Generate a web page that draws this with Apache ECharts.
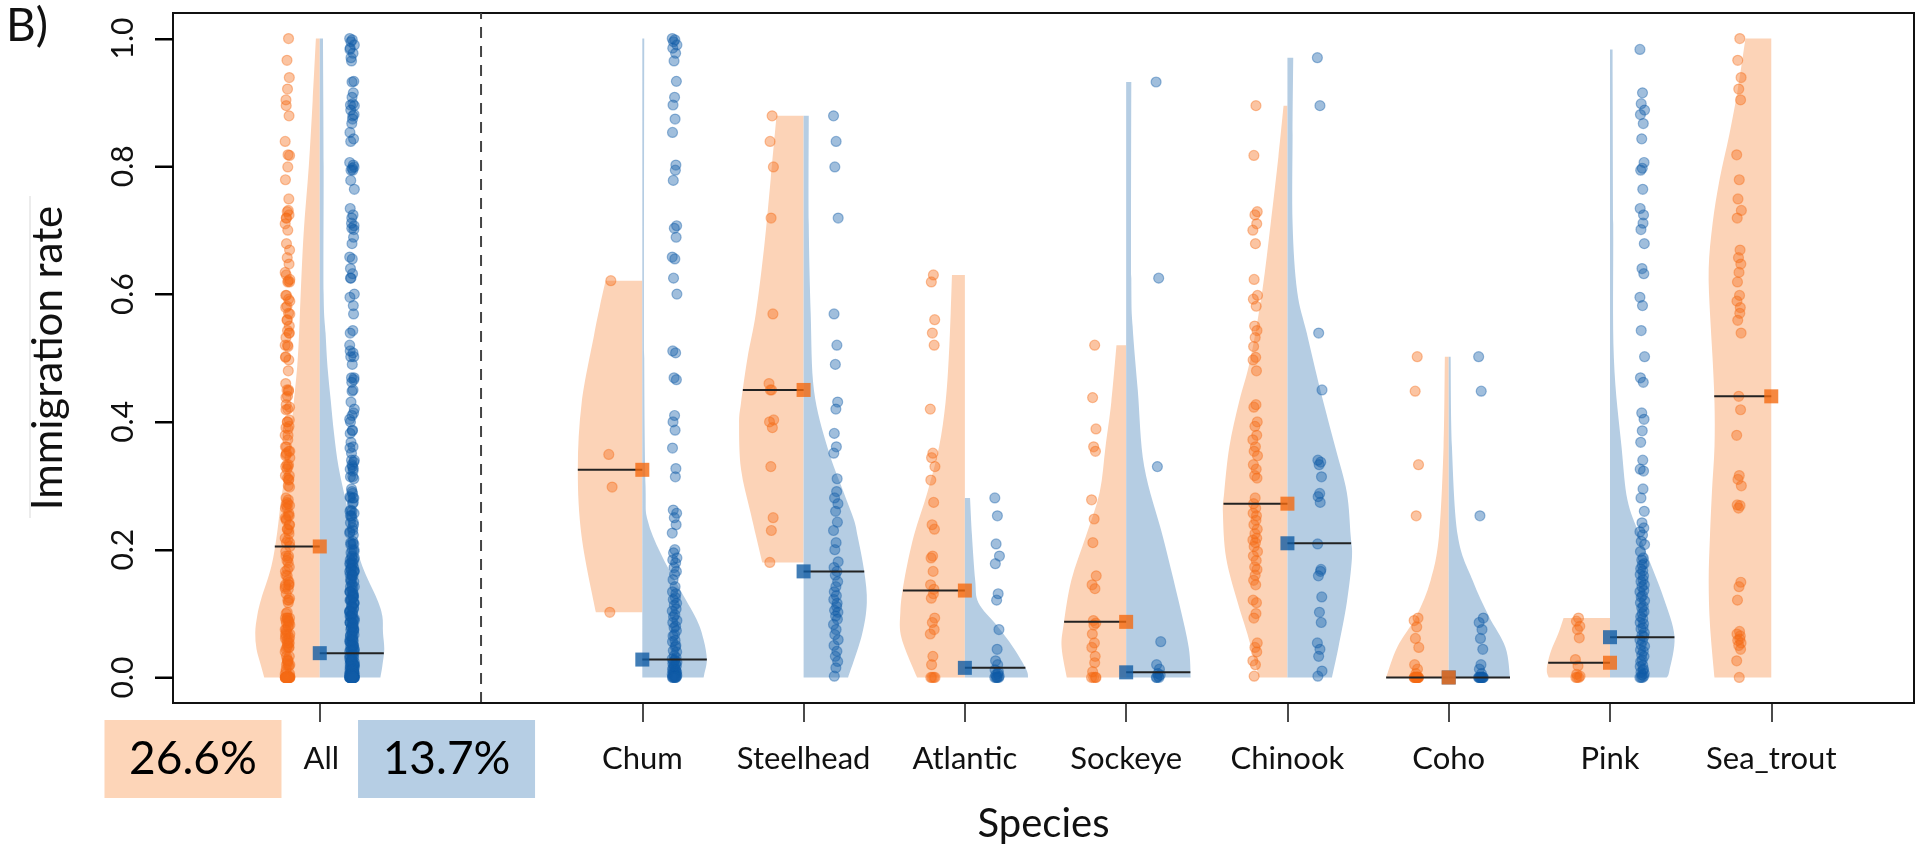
<!DOCTYPE html>
<html><head><meta charset="utf-8">
<script src="https://cdn.jsdelivr.net/npm/echarts@6/dist/echarts.min.js"></script>
<style>html,body{margin:0;padding:0;background:#fff}#c{width:1932px;height:850px}</style>
</head><body><div id="c"></div>
<script>
// ---------- categories & labels ----------
const species = ['All','Chum','Steelhead','Atlantic','Sockeye','Chinook','Coho','Pink','Sea_trout'];
const allPercent = ['26.6%', '13.7%'];
const yTicks = [0, 0.2, 0.4, 0.6, 0.8, 1.0];

// ---------- orange group values (immigration rate) ----------
const chumOrange = [0.621, 0.349, 0.298, 0.102];
const steelheadOrange = [0.879, 0.839, 0.799, 0.719, 0.569, 0.46, 0.45, 0.45, 0.403, 0.40, 0.391, 0.33, 0.25, 0.23, 0.18];
const atlanticOrange = [0.63, 0.619, 0.56, 0.539, 0.52, 0.42, 0.351, 0.344, 0.33, 0.309, 0.274, 0.239, 0.232, 0.19, 0.187, 0.166, 0.145, 0.138, 0.131, 0.124, 0.093, 0.086, 0.075, 0.068, 0.033, 0.02, 0, 0, 0, 0];
const sockeyeOrange = [0.52, 0.438, 0.389, 0.361, 0.354, 0.278, 0.248, 0.211, 0.159, 0.145, 0.139, 0.089, 0.085, 0.082, 0.068, 0.054, 0.047, 0.033, 0.023, 0.009, 0, 0, 0, 0];
const chinookOrange = [0.895, 0.817, 0.729, 0.724, 0.71, 0.70, 0.679, 0.623, 0.598, 0.592, 0.581, 0.55, 0.543, 0.532, 0.518, 0.501, 0.497, 0.48, 0.427, 0.423, 0.40, 0.393, 0.379, 0.372, 0.361, 0.354, 0.347, 0.333, 0.326, 0.316, 0.312, 0.281, 0.272, 0.265, 0.257, 0.253, 0.246, 0.239, 0.232, 0.225, 0.218, 0.215, 0.211, 0.205, 0.197, 0.19, 0.183, 0.173, 0.169, 0.16, 0.152, 0.145, 0.121, 0.117, 0.10, 0.093, 0.054, 0.047, 0.04, 0.026, 0.02, 0.002];
const cohoOrange = [0.502, 0.448, 0.333, 0.253, 0.093, 0.089, 0.079, 0.061, 0.047, 0.02, 0.013, 0.006, 0, 0, 0, 0, 0, 0, 0, 0, 0, 0, 0, 0, 0];
const pinkOrange = [0.093, 0.088, 0.08, 0.075, 0.062, 0.028, 0.018, 0.005, 0.002, 0, 0, 0];
const seaTroutOrange = [1.0, 0.966, 0.939, 0.921, 0.904, 0.818, 0.779, 0.749, 0.731, 0.719, 0.669, 0.657, 0.647, 0.634, 0.619, 0.598, 0.589, 0.579, 0.57, 0.559, 0.539, 0.44, 0.419, 0.379, 0.316, 0.31, 0.30, 0.27, 0.269, 0.265, 0.149, 0.142, 0.121, 0.072, 0.068, 0.065, 0.06, 0.058, 0.054, 0.05, 0.044, 0.026, 0];

// ---------- blue group values ----------
const chumBlue = [1.0, 0.998, 0.995, 0.99, 0.985, 0.977, 0.965, 0.933, 0.908, 0.896, 0.874, 0.853, 0.802, 0.794, 0.778, 0.707, 0.703, 0.689, 0.658, 0.655, 0.625, 0.6, 0.511, 0.508, 0.469, 0.466, 0.41, 0.4, 0.387, 0.359, 0.327, 0.314, 0.262, 0.257, 0.25, 0.239, 0.226, 0.2, 0.195, 0.187, 0.184, 0.179, 0.172, 0.166, 0.161, 0.153, 0.142, 0.134,
  0.131, 0.125, 0.122, 0.116, 0.113, 0.107, 0.104, 0.098, 0.095, 0.089, 0.086, 0.08, 0.078, 0.073, 0.067, 0.065, 0.058, 0.056, 0.05, 0.048, 0.042, 0.04, 0.034, 0.031, 0.029,
  0.027, 0.025, 0.024, 0.022, 0.021, 0.019, 0.018, 0.016, 0.015, 0.013, 0.012, 0.011, 0.01, 0.009, 0.008, 0.007, 0.006, 0.005, 0.004, 0.004, 0.003, 0.002, 0.002, 0.001, 0.001, 0, 0, 0, 0, 0];
const steelheadBlue = [0.879, 0.839, 0.799, 0.719, 0.569, 0.52, 0.49, 0.431, 0.42, 0.382, 0.361, 0.351, 0.311, 0.291, 0.281, 0.272, 0.26, 0.243, 0.23, 0.211, 0.2, 0.181, 0.172, 0.166, 0.16, 0.15, 0.142, 0.134, 0.128, 0.122, 0.116, 0.111, 0.105, 0.102, 0.096, 0.091, 0.083, 0.075, 0.067, 0.059, 0.05, 0.041, 0.033, 0.025, 0.015, 0.002];
const atlanticBlue = [0.281, 0.253, 0.209, 0.19, 0.178, 0.131, 0.121, 0.075, 0.044, 0.026, 0.02, 0.012, 0.009, 0.006, 0.004, 0.002, 0, 0, 0, 0, 0];
const sockeyeBlue = [0.932, 0.625, 0.33, 0.056, 0.02, 0.013, 0.006, 0.004, 0.002, 0, 0, 0];
const chinookBlue = [0.97, 0.895, 0.539, 0.45, 0.34, 0.337, 0.333, 0.314, 0.288, 0.283, 0.274, 0.209, 0.169, 0.166, 0.159, 0.126, 0.102, 0.086, 0.054, 0.044, 0.033, 0.01, 0.002];
const cohoBlue = [0.502, 0.448, 0.253, 0.093, 0.086, 0.075, 0.061, 0.044, 0.02, 0.013, 0.006, 0, 0, 0, 0, 0, 0, 0, 0, 0, 0, 0];
const pinkBlue = [0.983, 0.915, 0.898, 0.888, 0.881, 0.867, 0.843, 0.806, 0.797, 0.794, 0.764, 0.734, 0.724, 0.711, 0.701, 0.679, 0.64, 0.632, 0.595, 0.582, 0.543, 0.502, 0.469, 0.462, 0.414, 0.404, 0.386, 0.368, 0.34, 0.326, 0.323, 0.295, 0.281, 0.26, 0.242, 0.234, 0.228, 0.223, 0.213, 0.208, 0.197, 0.187,
  0.184, 0.178, 0.176, 0.17, 0.167, 0.161, 0.159, 0.153, 0.15, 0.145, 0.142, 0.136, 0.134, 0.128, 0.126, 0.12, 0.117, 0.111, 0.109, 0.103, 0.1, 0.095, 0.092, 0.086, 0.084, 0.078, 0.076, 0.07, 0.066, 0.064, 0.059, 0.057, 0.051, 0.049, 0.043, 0.041, 0.035, 0.033, 0.027, 0.025, 0.019, 0.017, 0.013, 0.011, 0.008, 0.006, 0.004, 0.002, 0, 0, 0];

// ---------- medians read from the squares ----------
const orangeMedian = [0.205, 0.325, 0.45, 0.136, 0.087, 0.272, 0.0, 0.023, 0.44];
const blueMedian = [0.038, 0.028, 0.166, 0.015, 0.008, 0.21, 0.0, 0.063, null];

// ---------- half-violin density profiles: [rate, relative density] ----------
const allOrangeDensity = [[0,0.86],[0.018,0.91],[0.044,0.98],[0.07,1.0],[0.096,0.97],[0.122,0.91],[0.174,0.75],[0.227,0.66],[0.278,0.60],[0.33,0.52],[0.383,0.45],[0.434,0.40],[0.486,0.35],[0.539,0.32],[0.59,0.30],[0.695,0.25],[0.8,0.17],[0.903,0.11],[1.0,0.06]];
const allBlueDensity = [[0,0.94],[0.018,0.97],[0.044,1.0],[0.07,0.98],[0.096,0.97],[0.122,0.89],[0.174,0.66],[0.227,0.51],[0.278,0.40],[0.33,0.29],[0.383,0.22],[0.434,0.17],[0.486,0.12],[0.539,0.09],[0.6,0.06],[0.8,0.06],[1.0,0.05]];
const chumOrangeDensity = [[0.102,0.72],[0.22,0.94],[0.325,1.0],[0.43,0.94],[0.535,0.75],[0.58,0.66],[0.621,0.57]];
const chumBlueDensity = [[0,0.95],[0.005,0.96],[0.028,1.0],[0.059,0.95],[0.091,0.84],[0.142,0.56],[0.195,0.28],[0.247,0.08],[0.3,0.05],[0.5,0.03],[1.0,0.03]];
const steelheadOrangeDensity = [[0.18,0.64],[0.257,0.82],[0.326,0.97],[0.396,1.0],[0.43,0.97],[0.50,0.87],[0.57,0.74],[0.675,0.61],[0.78,0.51],[0.879,0.42]];
const steelheadBlueDensity = [[0,0.69],[0.065,0.90],[0.117,0.98],[0.166,0.94],[0.22,0.84],[0.247,0.78],[0.29,0.62],[0.36,0.37],[0.45,0.16],[0.57,0.11],[0.71,0.08],[0.879,0.08]];
const atlanticOrangeDensity = [[0,0.74],[0.061,0.98],[0.103,1.0],[0.152,0.94],[0.222,0.79],[0.29,0.58],[0.361,0.40],[0.43,0.30],[0.50,0.25],[0.57,0.22],[0.63,0.20]];
const atlanticBlueDensity = [[0,0.98],[0.013,0.95],[0.047,0.75],[0.082,0.49],[0.117,0.21],[0.152,0.16],[0.222,0.11],[0.281,0.08]];
const sockeyeOrangeDensity = [[0,0.92],[0.047,1.0],[0.082,0.97],[0.152,0.85],[0.222,0.62],[0.29,0.41],[0.361,0.32],[0.431,0.23],[0.52,0.15]];
const sockeyeBlueDensity = [[0,1.0],[0.047,0.97],[0.117,0.82],[0.22,0.57],[0.33,0.28],[0.45,0.18],[0.55,0.1],[0.625,0.08],[0.932,0.08]];
const chinookOrangeDensity = [[0,0.44],[0.068,0.62],[0.117,0.77],[0.187,0.95],[0.257,1.0],[0.29,0.98],[0.361,0.90],[0.431,0.75],[0.50,0.57],[0.605,0.39],[0.71,0.26],[0.815,0.14],[0.895,0.06]];
const chinookBlueDensity = [[0,0.69],[0.047,0.79],[0.117,0.92],[0.187,1.0],[0.222,0.98],[0.29,0.92],[0.361,0.74],[0.45,0.51],[0.539,0.30],[0.605,0.15],[0.71,0.08],[0.85,0.08],[0.97,0.09]];
const cohoOrangeDensity = [[0,0.97],[0.047,0.80],[0.096,0.50],[0.152,0.28],[0.222,0.15],[0.361,0.08],[0.502,0.06]];
const cohoBlueDensity = [[0,0.95],[0.047,0.88],[0.096,0.62],[0.152,0.37],[0.222,0.14],[0.361,0.05],[0.502,0.03]];
const pinkOrangeDensity = [[0,0.95],[0.013,0.98],[0.04,0.92],[0.069,0.8],[0.093,0.72]];
const pinkBlueDensity = [[0,0.88],[0.01,0.92],[0.064,1.0],[0.122,0.84],[0.17,0.66],[0.225,0.45],[0.278,0.27],[0.36,0.18],[0.5,0.06],[0.71,0.05],[0.983,0.04]];
const seaTroutOrangeDensity = [[0,0.88],[0.082,0.95],[0.152,0.97],[0.222,0.95],[0.29,0.92],[0.361,0.88],[0.43,0.88],[0.50,0.91],[0.57,0.95],[0.64,0.97],[0.71,0.91],[0.78,0.8],[0.85,0.65],[0.92,0.52],[1.0,0.4]];

// ---------- assemble ----------
const orangeBySpecies = [chumOrange, steelheadOrange, atlanticOrange, sockeyeOrange, chinookOrange, cohoOrange, pinkOrange, seaTroutOrange];
const blueBySpecies = [chumBlue, steelheadBlue, atlanticBlue, sockeyeBlue, chinookBlue, cohoBlue, pinkBlue, null];
const orangeValues = [[].concat(...orangeBySpecies), ...orangeBySpecies];
const blueValues = [[].concat(...blueBySpecies.filter(Boolean)), ...blueBySpecies];
const orangeDensity = [allOrangeDensity, chumOrangeDensity, steelheadOrangeDensity, atlanticOrangeDensity, sockeyeOrangeDensity, chinookOrangeDensity, cohoOrangeDensity, pinkOrangeDensity, seaTroutOrangeDensity];
const blueDensity = [allBlueDensity, chumBlueDensity, steelheadBlueDensity, atlanticBlueDensity, sockeyeBlueDensity, chinookBlueDensity, cohoBlueDensity, pinkBlueDensity, null];

// ---------- style constants ----------
const FONT = 'Lato, "Noto Sans", sans-serif';
const ORANGE_FILL = '#FCD3B7', BLUE_FILL = '#B5CDE3';
const ORANGE_PT = 'rgba(244,108,22,0.5)', BLUE_PT = 'rgba(18,92,168,0.5)';
const ORANGE_SQ = '#F46A10', BLUE_SQ = '#115CA4';
const X_MIN = -0.91, X_MAX = 9.885, Y_MIN = -0.04, Y_MAX = 1.04;
const HALF = 0.4;          // max half-width of a violin (axis units)
const PT_OFFSET = 0.2;     // offset of point columns from the centre
const Y_TICK_LEN = 18;
const jit = [0.3,-0.5,0.8,-0.1,0.6,-0.9,0.1,-0.4,0.9,-0.7,0.4,-0.2,0.7,0,-0.6,0.2,-0.8,0.5];
const slot = i => (i === 0 ? 0 : i + 1);          // gap slot after "All"
const tickPos = species.map((s, i) => slot(i));

function densAt(prof, y) {
  if (y <= prof[0][0]) return prof[0][1];
  for (let k = 1; k < prof.length; k++) {
    if (y <= prof[k][0]) {
      const a = prof[k - 1], b = prof[k], t = (y - a[0]) / (b[0] - a[0]);
      return a[1] + t * (b[1] - a[1]);
    }
  }
  return prof[prof.length - 1][1];
}
function curve(pts) {
  let d = '';
  for (let i = 0; i < pts.length - 1; i++) {
    const p0 = pts[i - 1] || pts[i], p1 = pts[i], p2 = pts[i + 1], p3 = pts[i + 2] || pts[i + 1];
    const c1 = [p1[0] + (p2[0] - p0[0]) / 6, p1[1] + (p2[1] - p0[1]) / 6];
    const c2 = [p2[0] - (p3[0] - p1[0]) / 6, p2[1] - (p3[1] - p1[1]) / 6];
    d += ` C${c1[0]} ${c1[1]} ${c2[0]} ${c2[1]} ${p2[0]} ${p2[1]}`;
  }
  return d;
}

const halves = [];
species.forEach((s, i) => {
  if (orangeDensity[i]) halves.push([slot(i), -1, i]);
  if (blueDensity[i]) halves.push([slot(i), 1, i]);
});

const orangePts = [], bluePts = [], orangeSq = [], blueSq = [];
species.forEach((s, i) => {
  const p = slot(i);
  if (orangeValues[i]) orangeValues[i].forEach((v, k) => orangePts.push([p - PT_OFFSET + jit[k % jit.length] * 0.016, v]));
  if (blueValues[i]) blueValues[i].forEach((v, k) => bluePts.push([p + PT_OFFSET + jit[(k + 5) % jit.length] * 0.016, v]));
  if (orangeMedian[i] != null) orangeSq.push([p, orangeMedian[i]]);
  if (blueMedian[i] != null) blueSq.push([p, blueMedian[i]]);
});

const baseGraphic = [{ type: 'line', shape: { x1: 30, y1: 196, x2: 30, y2: 518 }, style: { stroke: '#d9d9d9', lineWidth: 1 } }];

const chart = echarts.init(document.getElementById('c'));
chart.setOption({
  animation: false,
  backgroundColor: '#fff',
  title: { text: 'B)', left: 6, top: 3, padding: 0, textStyle: { fontFamily: FONT, fontSize: 46, fontWeight: 'normal', color: '#111' } },
  graphic: baseGraphic,
  grid: { left: 173, right: 18, top: 13, bottom: 147, show: true, borderColor: '#111', borderWidth: 2, backgroundColor: 'transparent', outerBoundsMode: 'none' },
  xAxis: {
    type: 'value', min: X_MIN, max: X_MAX, position: 'bottom', z: 10,
    axisLine: { show: true, onZero: false, lineStyle: { color: '#111', width: 2 } }, splitLine: { show: false },
    axisTick: { show: true, customValues: tickPos, length: 19, lineStyle: { color: '#111', width: 1.5 } },
    axisLabel: {
      customValues: tickPos, margin: 56, verticalAlign: 'middle',
      fontFamily: FONT, fontSize: 31, color: '#111',
      formatter: v => {
        const i = tickPos.indexOf(Math.round(v));
        if (i === 0) return `{o|${allPercent[0]}}{a|${species[0]}}{b|${allPercent[1]}}`;
        return i >= 0 ? species[i] : '';
      },
      rich: {
        o: { backgroundColor: '#FDD5B8', width: 177, height: 78, lineHeight: 78, align: 'center', verticalAlign: 'middle', fontFamily: FONT, fontSize: 46, color: '#000' },
        a: { fontFamily: FONT, fontSize: 31, color: '#111', padding: [0, 19, 0, 22], verticalAlign: 'middle' },
        b: { backgroundColor: '#B6CEE4', width: 177, height: 78, lineHeight: 78, align: 'center', verticalAlign: 'middle', fontFamily: FONT, fontSize: 46, color: '#000' }
      }
    },
    name: 'Species', nameLocation: 'middle', nameGap: 101,
    nameTextStyle: { fontFamily: FONT, fontSize: 40, color: '#111' }
  },
  yAxis: {
    type: 'value', min: Y_MIN, max: Y_MAX, position: 'left', z: 10,
    axisLine: { show: true, onZero: false, lineStyle: { color: '#111', width: 2 } }, splitLine: { show: false },
    axisTick: { show: true, customValues: yTicks, length: Y_TICK_LEN, lineStyle: { color: '#000', width: 2 } },
    axisLabel: { customValues: yTicks, rotate: 90, margin: 35, fontFamily: FONT, fontSize: 30, color: '#111', formatter: v => v.toFixed(1) },
    name: 'Immigration rate', nameLocation: 'middle', nameRotate: 90, nameGap: 104,
    nameTextStyle: { fontFamily: FONT, fontSize: 42, color: '#111' }
  },
  series: [
    {
      type: 'custom', name: 'violins', z: 1, silent: true,
      data: halves,
      renderItem: (params, api) => {
        const p = api.value(0), side = api.value(1), idx = api.value(2);
        const prof = side < 0 ? orangeDensity[idx] : blueDensity[idx];
        const edge = prof.map(([y, d]) => api.coord([p + side * HALF * d, y]));
        const b = api.coord([p, prof[0][0]]), t = api.coord([p, prof[prof.length - 1][0]]);
        const d = `M${b[0]} ${b[1]} L${edge[0][0]} ${edge[0][1]}` + curve(edge) + ` L${t[0]} ${t[1]} Z`;
        return { type: 'path', shape: { pathData: d }, style: { fill: side < 0 ? ORANGE_FILL : BLUE_FILL } };
      }
    },
    {
      type: 'line', name: 'divider', z: 2, silent: true, symbol: 'none',
      data: [[1, Y_MIN], [1, Y_MAX]],
      lineStyle: { color: '#444', width: 2, type: [11, 8] }
    },
    {
      type: 'scatter', name: 'orange points', z: 3, silent: true, symbolSize: 10,
      data: orangePts,
      itemStyle: { color: ORANGE_PT, borderColor: ORANGE_PT, borderWidth: 1.2 }
    },
    {
      type: 'scatter', name: 'blue points', z: 3, silent: true, symbolSize: 10,
      data: bluePts,
      itemStyle: { color: BLUE_PT, borderColor: BLUE_PT, borderWidth: 1.2 }
    },
    {
      type: 'custom', name: 'median lines', z: 4, silent: true,
      data: halves,
      renderItem: (params, api) => {
        const p = api.value(0), side = api.value(1), idx = api.value(2);
        const prof = side < 0 ? orangeDensity[idx] : blueDensity[idx];
        const m = side < 0 ? orangeMedian[idx] : blueMedian[idx];
        const a = api.coord([p, m]), e = api.coord([p + side * HALF * densAt(prof, m), m]);
        return { type: 'line', shape: { x1: a[0], y1: a[1], x2: e[0], y2: e[1] }, style: { stroke: '#222', lineWidth: 2 } };
      }
    },
    {
      type: 'scatter', name: 'blue median', z: 5, silent: true, symbol: 'rect', symbolSize: 14,
      data: blueSq, itemStyle: { color: BLUE_SQ }
    },
    {
      type: 'scatter', name: 'orange median', z: 6, silent: true, symbol: 'rect', symbolSize: 14,
      data: orangeSq, itemStyle: { color: ORANGE_SQ }
    }
  ]
});

// y-axis tick marks reinforced, placed through the chart's own y scale
const yTickGraphic = yTicks.map(v => {
  const c = chart.convertToPixel({ gridIndex: 0 }, [X_MIN, v]);
  return { type: 'line', z: 100, shape: { x1: c[0] - Y_TICK_LEN, y1: Math.round(c[1]) + 0.5, x2: c[0], y2: Math.round(c[1]) + 0.5 }, style: { stroke: '#000', lineWidth: 2 } };
});
chart.setOption({ graphic: baseGraphic.concat(yTickGraphic) });
</script></body></html>
